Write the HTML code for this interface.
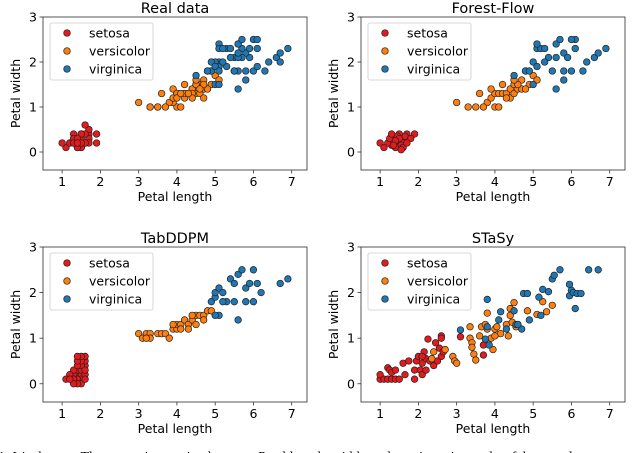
<!DOCTYPE html>
<html><head><meta charset="utf-8"><style>
html,body{margin:0;padding:0;background:#fff;width:640px;height:453px;overflow:hidden}
svg text{font-family:"DejaVu Sans","Liberation Sans",sans-serif;fill:#000}
</style></head><body>
<svg id="fig" width="640" height="453" viewBox="0 0 640 453" xmlns="http://www.w3.org/2000/svg"></svg>
<script>
const speciesNames = ["setosa","versicolor","virginica"];
const speciesColors = ["#e41a1c","#ff7f0e","#1f77b4"];
const xTicks = [1,2,3,4,5,6,7];
const yTicks = [0,1,2,3];
const panelTitles = ["Real data","Forest-Flow","TabDDPM","STaSy"];

const realSetosa = [[1.4,.2],[1.4,.2],[1.3,.2],[1.5,.2],[1.4,.2],[1.7,.4],[1.4,.3],[1.5,.2],[1.4,.2],[1.5,.1],[1.5,.2],[1.6,.2],[1.4,.1],[1.1,.1],[1.2,.2],[1.5,.4],[1.3,.4],[1.4,.3],[1.7,.3],[1.5,.3],[1.7,.2],[1.5,.4],[1.0,.2],[1.7,.5],[1.9,.2],[1.6,.2],[1.6,.4],[1.5,.2],[1.4,.2],[1.6,.2],[1.6,.2],[1.5,.4],[1.5,.1],[1.4,.2],[1.5,.2],[1.2,.2],[1.3,.2],[1.4,.1],[1.3,.2],[1.5,.2],[1.3,.3],[1.3,.3],[1.3,.2],[1.6,.6],[1.9,.4],[1.4,.3],[1.6,.2],[1.4,.2],[1.5,.2],[1.4,.2]];
const realVersicolor = [[4.7,1.4],[4.5,1.5],[4.9,1.5],[4.0,1.3],[4.6,1.5],[4.5,1.3],[4.7,1.6],[3.3,1.0],[4.6,1.3],[3.9,1.4],[3.5,1.0],[4.2,1.5],[4.0,1.0],[4.7,1.4],[3.6,1.3],[4.4,1.4],[4.5,1.5],[4.1,1.0],[4.5,1.5],[3.9,1.1],[4.8,1.8],[4.0,1.3],[4.9,1.5],[4.7,1.2],[4.3,1.3],[4.4,1.4],[4.8,1.4],[5.0,1.7],[4.5,1.5],[3.5,1.0],[3.8,1.1],[3.7,1.0],[3.9,1.2],[5.1,1.6],[4.5,1.5],[4.5,1.6],[4.7,1.5],[4.4,1.3],[4.1,1.3],[4.0,1.3],[4.4,1.2],[4.6,1.4],[4.0,1.2],[3.3,1.0],[4.2,1.3],[4.2,1.2],[4.2,1.3],[4.3,1.3],[3.0,1.1],[4.1,1.3]];
const realVirginica = [[6.0,2.5],[5.1,1.9],[5.9,2.1],[5.6,1.8],[5.8,2.2],[6.6,2.1],[4.5,1.7],[6.3,1.8],[5.8,1.8],[6.1,2.5],[5.1,2.0],[5.3,1.9],[5.5,2.1],[5.0,2.0],[5.1,2.4],[5.3,2.3],[5.5,1.8],[6.7,2.2],[6.9,2.3],[5.0,1.5],[5.7,2.3],[4.9,2.0],[6.7,2.0],[4.9,1.8],[5.7,2.1],[6.0,1.8],[4.8,1.8],[4.9,1.8],[5.6,2.1],[5.8,1.6],[6.1,1.9],[6.4,2.0],[5.6,2.2],[5.1,1.5],[5.6,1.4],[6.1,2.3],[5.6,2.4],[5.5,1.8],[4.8,1.8],[5.4,2.1],[5.6,2.4],[5.1,2.3],[5.1,1.9],[5.9,2.3],[5.7,2.5],[5.2,2.3],[5.0,1.9],[5.2,2.0],[5.4,2.3],[5.1,1.8]];

const ffSetosa = [[1.4,.2],[1.3,.15],[1.5,.25],[1.4,.3],[1.6,.3],[1.2,.2],[1.5,.1],[1.45,.2],[1.3,.3],[1.7,.4],[1.0,.2],[1.1,.1],[1.5,.35],[1.6,.2],[1.35,.25],[1.55,.15],[1.4,.1],[1.25,.3],[1.65,.35],[1.5,.4],[1.9,.4],[1.8,.3],[1.45,.35],[1.6,.1],[1.3,.4],[1.5,.3],[1.4,.25],[1.55,.05],[1.7,.2],[1.35,.15]];
const ffVersicolor = [[3.0,1.1],[3.3,1.0],[3.5,1.0],[3.6,1.3],[3.8,1.1],[3.9,1.2],[4.0,1.3],[4.0,1.0],[4.1,1.3],[4.2,1.3],[4.2,1.5],[4.3,1.3],[4.4,1.4],[4.4,1.2],[4.5,1.5],[4.5,1.3],[4.6,1.4],[4.7,1.4],[4.7,1.6],[4.8,1.8],[4.9,1.5],[5.0,1.7],[3.7,1.0],[4.1,1.0],[4.6,1.5],[4.3,1.2],[3.9,1.4],[4.5,1.6],[4.8,1.4],[5.1,1.6]];
const ffVirginica = [[4.5,1.7],[4.8,1.8],[4.9,1.8],[5.0,2.0],[5.1,1.9],[5.1,2.3],[5.2,2.3],[5.3,2.3],[5.4,2.1],[5.5,1.8],[5.6,2.1],[5.6,2.4],[5.7,2.5],[5.8,1.8],[5.8,2.2],[5.9,2.1],[6.0,1.8],[6.1,2.3],[6.1,2.5],[6.3,1.8],[6.4,2.0],[6.6,2.1],[6.7,2.2],[6.9,2.3],[5.0,1.5],[5.6,1.4],[5.8,1.6],[5.1,2.4],[5.3,2.0],[6.0,2.5]];

const ddpmSetosa = [[1.4,.2],[1.3,.2],[1.5,.2],[1.4,.3],[1.6,.4],[1.5,.1],[1.4,.1],[1.6,.5],[1.6,.6],[1.5,.3],[1.3,.3],[1.2,.2],[1.5,.4],[1.6,.2],[1.4,.4],[1.3,.1],[1.5,.5],[1.6,.3],[1.4,.5],[1.1,.1],[1.5,.0],[1.6,.1],[1.4,.0],[1.3,.0],[1.5,.6],[1.2,.1],[1.4,.6]];
const ddpmVersicolor = [[3.0,1.1],[3.1,1.0],[3.2,1.1],[3.3,1.1],[3.3,1.0],[3.5,1.1],[3.6,1.1],[3.7,1.1],[3.8,1.0],[3.9,1.2],[4.0,1.2],[4.0,1.3],[4.1,1.3],[4.2,1.4],[4.3,1.3],[4.4,1.4],[4.5,1.5],[4.6,1.5],[4.7,1.5],[4.8,1.6],[4.9,1.6],[4.7,1.4],[4.5,1.3],[4.3,1.2],[3.9,1.3],[4.1,1.2],[3.2,1.0],[4.4,1.5]];
const ddpmVirginica = [[4.9,1.8],[5.0,1.9],[5.0,2.0],[5.1,2.1],[5.2,2.0],[5.3,1.8],[5.4,2.3],[5.5,2.2],[5.6,2.4],[5.7,2.5],[5.8,2.1],[5.9,2.2],[6.0,2.5],[6.1,2.2],[6.2,2.0],[6.7,2.2],[6.9,2.3],[5.6,1.4],[5.1,1.5],[5.0,1.5],[5.8,1.8],[6.0,1.8],[5.5,1.8],[5.2,1.8]];

const stSetosa = [[1,.1],[1,.2],[1.1,.1],[1.2,.35],[1.2,.1],[1.25,.3],[1.3,.25],[1.3,.1],[1.4,.3],[1.4,.1],[1.5,.1],[1.6,.45],[1.65,.2],[1.75,.5],[1.9,.3],[1.9,.1],[1.95,.5],[2.0,.6],[2.05,.3],[2.1,.45],[2.1,.2],[2.15,.7],[2.2,.55],[2.25,.98],[2.3,.5],[2.4,.4],[2.45,.9],[2.5,.5],[2.55,.78],[2.6,1.05],[2.6,1.0],[2.6,.6],[2.65,.7],[3.1,1.03],[3.7,.85],[3.7,.63],[2.1,.6],[2.2,.3]];
const stVersicolor = [[2.35,.55],[2.4,.7],[2.7,.75],[2.9,.6],[2.95,.5],[3.0,.45],[3.35,1.0],[3.35,1.25],[3.4,.9],[3.4,.8],[3.45,.65],[3.5,.52],[3.6,1.05],[3.65,1.25],[3.75,1.3],[3.8,1.2],[3.8,1.55],[3.9,1.0],[3.95,.75],[4.0,1.2],[4.05,1.25],[4.15,1.1],[4.3,1.3],[4.35,1.05],[4.4,1.65],[4.4,1.5],[4.45,1.35],[4.5,1.78],[4.55,1.25],[4.85,1.6],[5.1,1.52],[5.25,1.8],[5.35,1.58],[5.5,1.72],[4.6,1.3],[4.0,1.05]];
const stVirginica = [[3.1,1.18],[3.75,.98],[3.8,1.25],[3.8,1.85],[3.85,.85],[4.1,1.4],[4.15,1.58],[4.3,1.2],[4.5,1.6],[4.55,1.3],[4.7,1.2],[4.75,1.98],[4.85,1.98],[4.9,1.4],[5.15,1.9],[5.2,1.5],[5.25,2.07],[5.4,2.02],[5.5,2.3],[5.55,2.38],[5.7,2.5],[5.95,2.18],[5.95,1.93],[6.0,2.05],[6.05,2.0],[6.1,1.65],[6.15,1.98],[6.25,1.98],[6.45,2.5],[6.7,2.5],[4.6,1.3]];

const panelData = [
  [realSetosa, realVersicolor, realVirginica],
  [ffSetosa, ffVersicolor, ffVirginica],
  [ddpmSetosa, ddpmVersicolor, ddpmVirginica],
  [stSetosa, stVersicolor, stVirginica]
];

const NS = "http://www.w3.org/2000/svg";
const fig = document.getElementById("fig");
function mk(tag, attrs, parent, txt){
  const e = document.createElementNS(NS, tag);
  for (const k in attrs) e.setAttribute(k, attrs[k]);
  if (txt !== undefined) e.textContent = txt;
  parent.appendChild(e);
  return e;
}
const boxes = [
  {L:43,R:307,T:17,B:170},
  {L:361,R:625,T:17,B:170},
  {L:43,R:307,T:247,B:402},
  {L:361,R:625,T:247,B:402}
];
const XMIN=0.5, XMAX=7.4, YMIN=-0.4, YMAX=3.0;

panelData.forEach((series, p) => {
  const b = boxes[p];
  const sx = v => b.L + (v - XMIN) / (XMAX - XMIN) * (b.R - b.L);
  const sy = v => b.B - (v - YMIN) / (YMAX - YMIN) * (b.B - b.T);
  const g = mk("g", {}, fig);
  
  

  const t = mk("text", {x:(b.L+b.R)/2, y:b.T-4, "text-anchor":"middle", "font-size":"14.5"}, g, panelTitles[p]);
  
  

  const frame = mk("rect", {x:b.L, y:b.T, width:b.R-b.L, height:b.B-b.T, fill:"none", stroke:"#444", "stroke-width":"0.9"}, g);
  
  

  xTicks.forEach(v => {
    const x = sx(v);
    mk("line", {x1:x, x2:x, y1:b.B, y2:b.B+3.5, stroke:"#333", "stroke-width":"0.8"}, g);
    const tl = mk("text", {x:x, y:b.B+16, "text-anchor":"middle", "font-size":"12.5"}, g, String(v));
    
    
  });
  yTicks.forEach(v => {
    const y = sy(v);
    mk("line", {x1:b.L-3.5, x2:b.L, y1:y, y2:y, stroke:"#333", "stroke-width":"0.8"}, g);
    const tl = mk("text", {x:b.L-6, y:y+4.5, "text-anchor":"end", "font-size":"12.5"}, g, String(v));
    
    
  });
  const xl = mk("text", {x:(b.L+b.R)/2, y:b.B+31, "text-anchor":"middle", "font-size":"12.5"}, g, "Petal length");
  
  
  const cy = (b.T+b.B)/2;
  const yl = mk("text", {x:b.L-23, y:cy, "text-anchor":"middle", "font-size":"12.5", transform:"rotate(-90 "+(b.L-23)+" "+cy+")"}, g, "Petal width");
  
  

  series.forEach((pts, s) => {
    pts.forEach(pt => {
      const c = mk("circle", {cx:sx(pt[0]), cy:sy(pt[1]), r:3.3, fill:speciesColors[s], stroke:"#222", "stroke-width":"0.7"}, g);
      
      
    });
  });

  const lg = mk("g", {}, g);
  
  
  mk("rect", {x:b.L+7, y:b.T+6, width:103, height:57, rx:2, fill:"#fff", "fill-opacity":"0.8", stroke:"#ccc", "stroke-width":"0.8"}, lg);
  speciesNames.forEach((n, s) => {
    const yy = b.T + 16 + s*18;
    const e = mk("g", {}, lg);
    
    
    mk("circle", {cx:b.L+24, cy:yy, r:3.3, fill:speciesColors[s], stroke:"#222", "stroke-width":"0.7"}, e);
    mk("text", {x:b.L+46, y:yy+4.5, "font-size":"12.5"}, e, n);
  });
});

const cap = mk("text", {x:-2, y:461, "font-size":"14", style:"font-family:'Liberation Serif',serif"}, fig, "1: Iris dataset: Three-way interaction between Petal length, width, and species using real or fake samples");


</script>
</body></html>
